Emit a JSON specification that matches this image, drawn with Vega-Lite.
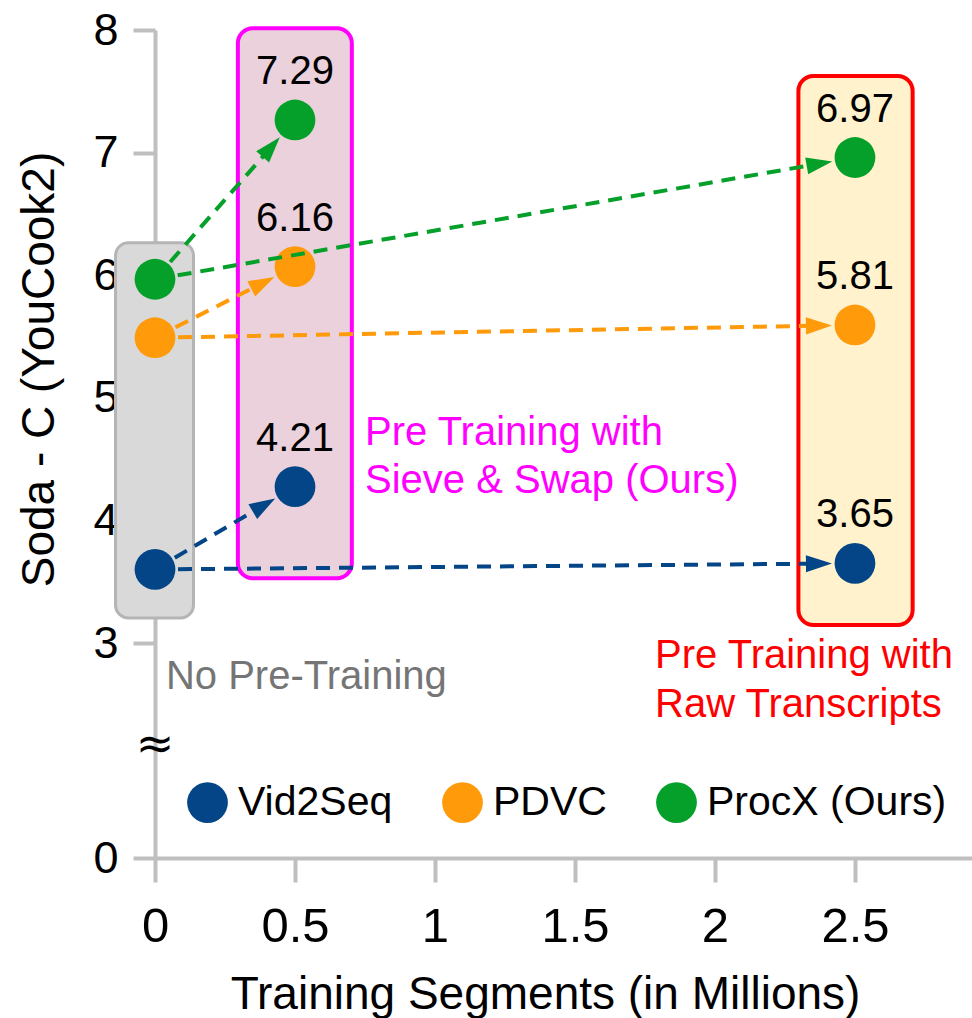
{
  "$schema": "https://vega.github.io/schema/vega-lite/v6.json",
  "autosize": "none",
  "padding": {"left": 155, "top": 30, "right": 0, "bottom": 160},
  "width": 817,
  "height": 828,
  "background": "white",
  "config": {"view": {"stroke": null}, "font": "Liberation Sans"},
  "datasets": {
    "points": [
      {"model": "Vid2Seq", "x": 0, "y": 3.6, "label": ""},
      {"model": "Vid2Seq", "x": 0.5, "y": 4.275, "label": "4.21"},
      {"model": "Vid2Seq", "x": 2.5, "y": 3.65, "label": "3.65"},
      {"model": "PDVC", "x": 0, "y": 5.49, "label": ""},
      {"model": "PDVC", "x": 0.5, "y": 6.07, "label": "6.16"},
      {"model": "PDVC", "x": 2.5, "y": 5.594, "label": "5.81"},
      {"model": "ProcX (Ours)", "x": 0, "y": 5.967, "label": ""},
      {"model": "ProcX (Ours)", "x": 0.5, "y": 7.266, "label": "7.29"},
      {"model": "ProcX (Ours)", "x": 2.5, "y": 6.96, "label": "6.97"}
    ],
    "arrows": [
      {"model": "Vid2Seq", "x1": 0, "y1": 3.6, "x2": 0.5, "y2": 4.275},
      {"model": "Vid2Seq", "x1": 0, "y1": 3.6, "x2": 2.5, "y2": 3.65},
      {"model": "PDVC", "x1": 0, "y1": 5.49, "x2": 0.5, "y2": 6.07},
      {"model": "PDVC", "x1": 0, "y1": 5.49, "x2": 2.5, "y2": 5.594},
      {"model": "ProcX (Ours)", "x1": 0, "y1": 5.967, "x2": 0.5, "y2": 7.266},
      {"model": "ProcX (Ours)", "x1": 0, "y1": 5.967, "x2": 2.5, "y2": 6.96}
    ],
    "boxes": [
      {"box": "none", "x1": -0.141, "x2": 0.1375, "y1": 3.204, "y2": 6.265},
      {"box": "sieve", "x1": 0.296, "x2": 0.703, "y1": 3.528, "y2": 8.014},
      {"box": "raw", "x1": 2.298, "x2": 2.706, "y1": 3.147, "y2": 7.625}
    ],
    "notes": [
      {"kind": "none", "text": "No Pre-Training", "x": 0.039, "y": 2.358},
      {"kind": "sieve", "text": "Pre Training with", "x": 0.75, "y": 4.615},
      {"kind": "sieve", "text": "Sieve & Swap (Ours)", "x": 0.75, "y": 4.223},
      {"kind": "raw", "text": "Pre Training with", "x": 1.786, "y": 2.651},
      {"kind": "raw", "text": "Raw Transcripts", "x": 1.786, "y": 1.967},
      {"kind": "break", "text": "≈", "x": 0, "y": 1.58}
    ]
  },
  "layer": [
    {
      "data": {"name": "boxes"},
      "transform": [{"filter": "datum.box === 'none'"}],
      "mark": {"type": "rect", "fill": "#d9d9d9", "stroke": "#b5b5b5", "strokeWidth": 3, "cornerRadius": 13},
      "encoding": {
        "x": {"field": "x1", "type": "quantitative", "title": "Training Segments (in Millions)",
          "scale": {"domain": [0, 2.918], "nice": false, "zero": false},
          "axis": {"values": [0, 0.5, 1, 1.5, 2, 2.5], "format": "~g", "grid": false, "labelFlush": false,
            "labelFontSize": 49, "labelColor": "black", "labelPadding": 20,
            "tickSize": 24, "tickWidth": 4, "tickColor": "#bfbfbf",
            "domainColor": "#bfbfbf", "domainWidth": 4,
            "titleFontSize": 46, "titleFontWeight": "normal", "titleColor": "black",
            "titleX": 390, "titleY": 150, "titleBaseline": "alphabetic", "titleAlign": "center"}},
        "x2": {"field": "x2"},
        "y": {"field": "y1", "type": "quantitative", "title": "Soda - C (YouCook2)",
          "scale": {"domain": [0, 3, 8], "range": [828, 613, 0], "nice": false, "zero": false},
          "axis": {"values": [0, 3, 4, 5, 6, 7, 8], "format": "~g", "grid": false, "labelFlush": false,
            "labelFontSize": 45, "labelColor": "black", "labelPadding": 15,
            "tickSize": 22, "tickWidth": 4, "tickColor": "#bfbfbf",
            "domainColor": "#bfbfbf", "domainWidth": 4,
            "titleFontSize": 46, "titleFontWeight": "normal", "titleColor": "black",
            "titleX": -116, "titleY": 339, "titleBaseline": "middle", "titleAlign": "center", "titleAngle": -90}},
        "y2": {"field": "y2"}
      }
    },
    {
      "data": {"name": "boxes"},
      "transform": [{"filter": "datum.box === 'sieve'"}],
      "mark": {"type": "rect", "fill": "#ead1dc", "stroke": "#ff00ff", "strokeWidth": 4, "cornerRadius": 15},
      "encoding": {
        "x": {"field": "x1", "type": "quantitative", "title": "Training Segments (in Millions)"},
        "x2": {"field": "x2"},
        "y": {"field": "y1", "type": "quantitative", "title": "Soda - C (YouCook2)"},
        "y2": {"field": "y2"}
      }
    },
    {
      "data": {"name": "boxes"},
      "transform": [{"filter": "datum.box === 'raw'"}],
      "mark": {"type": "rect", "fill": "#fff2cc", "stroke": "#ff0000", "strokeWidth": 4, "cornerRadius": 15},
      "encoding": {
        "x": {"field": "x1", "type": "quantitative", "title": "Training Segments (in Millions)"},
        "x2": {"field": "x2"},
        "y": {"field": "y1", "type": "quantitative", "title": "Soda - C (YouCook2)"},
        "y2": {"field": "y2"}
      }
    },
    {
      "data": {"name": "points"},
      "mark": {"type": "point", "filled": true, "size": 1662, "opacity": 1, "strokeWidth": 0},
      "encoding": {
        "x": {"field": "x", "type": "quantitative", "title": "Training Segments (in Millions)"},
        "y": {"field": "y", "type": "quantitative", "title": "Soda - C (YouCook2)"},
        "color": {"field": "model", "type": "nominal",
          "scale": {"domain": ["Vid2Seq", "PDVC", "ProcX (Ours)"], "range": ["#034586", "#ff9a0a", "#05a02a"]},
          "legend": {"orient": "none", "legendX": 32, "legendY": 752, "direction": "horizontal", "title": null,
            "symbolType": "circle", "symbolSize": 1662, "symbolStrokeWidth": 0, "symbolOpacity": 1,
            "labelFontSize": 41, "labelColor": "black", "labelOffset": 10, "columnPadding": 49,
            "padding": 0, "offset": 0, "labelLimit": 400}}
      }
    },
    {
      "data": {"name": "arrows"},
      "transform": [
        {"calculate": "(datum.x2 - datum.x1) * 280", "as": "dxp"},
        {"calculate": "(datum.y2 - datum.y1) * 122.6", "as": "dyp"},
        {"calculate": "sqrt(datum.dxp * datum.dxp + datum.dyp * datum.dyp)", "as": "len"},
        {"calculate": "datum.x1 + datum.dxp / datum.len * 23 / 280", "as": "sx"},
        {"calculate": "datum.y1 + datum.dyp / datum.len * 23 / 122.6", "as": "sy"},
        {"calculate": "datum.x2 - datum.dxp / datum.len * 44 / 280", "as": "ex"},
        {"calculate": "datum.y2 - datum.dyp / datum.len * 44 / 122.6", "as": "ey"}
      ],
      "mark": {"type": "rule", "strokeWidth": 4, "strokeDash": [14, 9]},
      "encoding": {
        "x": {"field": "sx", "type": "quantitative", "title": "Training Segments (in Millions)"},
        "y": {"field": "sy", "type": "quantitative", "title": "Soda - C (YouCook2)"},
        "x2": {"field": "ex"},
        "y2": {"field": "ey"},
        "stroke": {"field": "model", "type": "nominal", "legend": null,
          "scale": {"domain": ["Vid2Seq", "PDVC", "ProcX (Ours)"], "range": ["#034586", "#ff9a0a", "#05a02a"]}}
      }
    },
    {
      "data": {"name": "arrows"},
      "transform": [
        {"calculate": "-atan2((datum.y2 - datum.y1) * 122.6, (datum.x2 - datum.x1) * 280) * 180 / PI", "as": "ang"}
      ],
      "mark": {"type": "point", "filled": true, "opacity": 1, "strokeWidth": 0, "size": 676,
        "shape": "M-1.77,0L-3.77,-0.66L-3.77,0.66Z"},
      "encoding": {
        "x": {"field": "x2", "type": "quantitative", "title": "Training Segments (in Millions)"},
        "y": {"field": "y2", "type": "quantitative", "title": "Soda - C (YouCook2)"},
        "angle": {"field": "ang", "type": "quantitative", "scale": null},
        "fill": {"field": "model", "type": "nominal", "legend": null,
          "scale": {"domain": ["Vid2Seq", "PDVC", "ProcX (Ours)"], "range": ["#034586", "#ff9a0a", "#05a02a"]}}
      }
    },
    {
      "data": {"name": "points"},
      "transform": [{"filter": "datum.label !== ''"}],
      "mark": {"type": "text", "fontSize": 40, "color": "black", "baseline": "alphabetic", "align": "center", "dy": -36},
      "encoding": {
        "x": {"field": "x", "type": "quantitative", "title": "Training Segments (in Millions)"},
        "y": {"field": "y", "type": "quantitative", "title": "Soda - C (YouCook2)"},
        "text": {"field": "label"}
      }
    },
    {
      "data": {"name": "notes"},
      "transform": [{"filter": "datum.kind === 'none'"}],
      "mark": {"type": "text", "fontSize": 40, "color": "#757575", "baseline": "alphabetic", "align": "left"},
      "encoding": {
        "x": {"field": "x", "type": "quantitative", "title": "Training Segments (in Millions)"},
        "y": {"field": "y", "type": "quantitative", "title": "Soda - C (YouCook2)"},
        "text": {"field": "text"}
      }
    },
    {
      "data": {"name": "notes"},
      "transform": [{"filter": "datum.kind === 'sieve'"}],
      "mark": {"type": "text", "fontSize": 40, "color": "#ff00ff", "baseline": "alphabetic", "align": "left"},
      "encoding": {
        "x": {"field": "x", "type": "quantitative", "title": "Training Segments (in Millions)"},
        "y": {"field": "y", "type": "quantitative", "title": "Soda - C (YouCook2)"},
        "text": {"field": "text"}
      }
    },
    {
      "data": {"name": "notes"},
      "transform": [{"filter": "datum.kind === 'raw'"}],
      "mark": {"type": "text", "fontSize": 40, "color": "#ff0000", "baseline": "alphabetic", "align": "left"},
      "encoding": {
        "x": {"field": "x", "type": "quantitative", "title": "Training Segments (in Millions)"},
        "y": {"field": "y", "type": "quantitative", "title": "Soda - C (YouCook2)"},
        "text": {"field": "text"}
      }
    },
    {
      "data": {"name": "notes"},
      "transform": [{"filter": "datum.kind === 'break'"}],
      "mark": {"type": "text", "fontSize": 46, "font": "DejaVu Sans", "color": "black", "baseline": "middle", "align": "center"},
      "encoding": {
        "x": {"field": "x", "type": "quantitative", "title": "Training Segments (in Millions)"},
        "y": {"field": "y", "type": "quantitative", "title": "Soda - C (YouCook2)"},
        "text": {"field": "text"}
      }
    }
  ]
}
